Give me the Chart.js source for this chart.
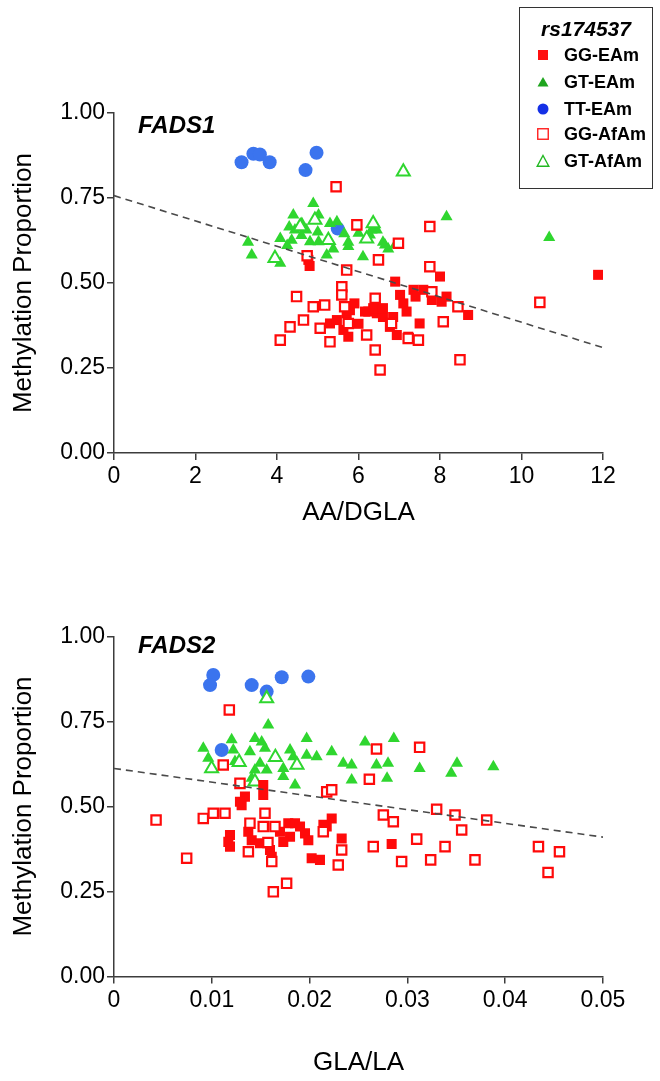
<!DOCTYPE html>
<html><head><meta charset="utf-8">
<script src="https://cdn.jsdelivr.net/npm/chart.js@4.4.1/dist/chart.umd.min.js"></script>
<style>
html,body{margin:0;padding:0;background:#fff}
body{width:660px;height:1081px;position:relative;overflow:hidden;font-family:"Liberation Sans",Arial,sans-serif;color:#000}
canvas{position:absolute;left:0}
#c1{top:0}
#c2{top:540px}
.lbl{position:absolute;font-weight:bold;font-style:italic;font-size:24px;line-height:24px;white-space:nowrap}
#legend{position:absolute;left:519px;top:7px;width:134px;height:182px;border:1.5px solid #333;box-sizing:border-box}
#legend .ttl{position:absolute;left:0;width:100%;top:9px;text-align:center;font-weight:bold;font-style:italic;font-size:21px;line-height:24px}
#legend .row{position:absolute;left:0;width:100%;height:20px}
#legend .row svg{position:absolute;left:16px;top:3px}
#legend .row span{position:absolute;left:44px;top:0;font-weight:bold;font-size:18px;line-height:20px;white-space:nowrap}
</style>
</head><body>
<canvas id="c1" width="660" height="540"></canvas>
<canvas id="c2" width="660" height="541"></canvas>
<div class="lbl" style="left:138px;top:113px">FADS1</div>
<div class="lbl" style="left:138px;top:633px">FADS2</div>
<div id="legend">
  <div class="ttl">rs174537</div>
  <div class="row" style="top:37px"><svg width="14" height="14"><rect x="2" y="2" width="10" height="10" fill="#ff1010"/></svg><span>GG-EAm</span></div>
  <div class="row" style="top:64px"><svg width="14" height="14"><polygon points="7,2 12.5,11.5 1.5,11.5" fill="#1fa51f"/></svg><span>GT-EAm</span></div>
  <div class="row" style="top:91px"><svg width="14" height="14"><circle cx="7" cy="7" r="5.5" fill="#1430e6"/></svg><span>TT-EAm</span></div>
  <div class="row" style="top:116px"><svg width="14" height="14"><rect x="1.75" y="1.75" width="10.5" height="10.5" fill="none" stroke="#ff2020" stroke-width="1.4"/></svg><span>GG-AfAm</span></div>
  <div class="row" style="top:143px"><svg width="14" height="14"><polygon points="7,1.5 12.8,12.2 1.2,12.2" fill="none" stroke="#22b822" stroke-width="1.4"/></svg><span>GT-AfAm</span></div>
</div>
<script>
// ---------- FADS1 (x = AA/DGLA) ----------
const f1_GG_EAm_x = [4.77,4.80,5.30,5.47,5.71,5.79,5.63,5.75,6.24,6.45,6.60,6.90,8.00,7.35,7.59,8.16,8.04,8.69,7.02,7.10,6.36,6.60,7.18,7.50,6.94,7.22,6.77,6.85,6.16,6.00,7.40,7.80,5.90,11.88];
const f1_GG_EAm_y = [0.568,0.55,0.381,0.391,0.411,0.42,0.362,0.342,0.416,0.411,0.40,0.504,0.519,0.48,0.48,0.46,0.445,0.406,0.465,0.44,0.426,0.426,0.416,0.381,0.347,0.342,0.371,0.40,0.416,0.38,0.46,0.45,0.44,0.524];
const f1_GT_EAm_x = [4.89,4.40,4.61,5.02,4.44,4.72,4.08,4.36,4.81,5.02,5.30,5.47,5.75,6.00,6.28,6.60,3.29,3.38,4.08,5.22,5.38,5.75,6.11,6.45,6.73,6.32,6.65,6.90,8.16,10.68,4.30,4.60,5.00,5.65,4.25];
const f1_GT_EAm_y = [0.734,0.70,0.675,0.70,0.656,0.656,0.631,0.626,0.621,0.621,0.675,0.68,0.62,0.646,0.641,0.62,0.62,0.582,0.558,0.582,0.60,0.607,0.577,0.656,0.60,0.656,0.612,0.612,0.695,0.634,0.665,0.64,0.65,0.645,0.61];
const f1_TT_EAm_x = [3.13,3.42,3.58,3.82,4.70,4.97,5.49];
const f1_TT_EAm_y = [0.855,0.88,0.878,0.855,0.832,0.883,0.66];
const f1_GG_AfAm_x = [5.45,5.96,6.49,4.74,5.71,5.59,5.59,4.48,4.89,5.17,4.65,4.32,4.08,5.06,5.30,5.66,5.75,6.41,6.20,6.41,6.53,7.75,6.98,7.75,8.44,8.08,7.47,7.22,8.49,6.81,7.80,10.45];
const f1_GG_AfAm_y = [0.783,0.671,0.568,0.58,0.538,0.489,0.465,0.46,0.43,0.435,0.391,0.371,0.332,0.367,0.327,0.43,0.381,0.455,0.347,0.303,0.244,0.666,0.617,0.548,0.43,0.386,0.332,0.337,0.274,0.381,0.474,0.443];
const f1_GT_AfAm_x = [7.10,3.95,4.93,5.26,6.36,6.20,4.57];
const f1_GT_AfAm_y = [0.827,0.573,0.685,0.626,0.675,0.63,0.666];
const f1_fit_x = [0, 12];
const f1_fit_y = [0.757, 0.31];

// ---------- FADS2 (x = GLA/LA) ----------
const f2_GG_EAm_x = [0.01526,0.01526,0.01339,0.01288,0.01305,0.01186,0.01169,0.01186,0.01373,0.01408,0.01493,0.01595,0.01613,0.01697,0.01782,0.01851,0.01902,0.01953,0.01800,0.01987,0.02021,0.02106,0.02226,0.02175,0.01731,0.02141,0.02328,0.02839];
const f2_GG_EAm_y = [0.563,0.534,0.529,0.514,0.504,0.416,0.396,0.382,0.426,0.401,0.392,0.372,0.352,0.426,0.451,0.451,0.441,0.421,0.411,0.401,0.348,0.343,0.465,0.441,0.396,0.446,0.406,0.39];
const f2_GT_EAm_x = [0.01577,0.00913,0.01203,0.01220,0.01441,0.01510,0.01544,0.01390,0.00964,0.01237,0.01493,0.01731,0.01800,0.01833,0.01970,0.01970,0.02072,0.02226,0.02344,0.01851,0.01731,0.01441,0.01408,0.01561,0.02567,0.02861,0.02430,0.02684,0.02802,0.02430,0.02792,0.03125,0.03507,0.03448,0.03879];
const f2_GT_EAm_y = [0.74,0.671,0.696,0.666,0.70,0.69,0.671,0.661,0.642,0.632,0.627,0.612,0.666,0.646,0.70,0.651,0.646,0.661,0.627,0.563,0.588,0.607,0.583,0.607,0.69,0.70,0.622,0.622,0.627,0.578,0.583,0.612,0.627,0.598,0.617];
const f2_TT_EAm_x = [0.01015,0.00982,0.01408,0.01561,0.01715,0.01987,0.01101];
const f2_TT_EAm_y = [0.887,0.857,0.857,0.838,0.88,0.882,0.666];
const f2_GG_AfAm_x = [0.01179,0.01117,0.01288,0.00913,0.01015,0.01135,0.01544,0.01390,0.01526,0.01646,0.01574,0.01374,0.01613,0.00743,0.01629,0.01765,0.02175,0.02226,0.02293,0.02328,0.02140,0.02684,0.03125,0.02611,0.02754,0.02856,0.03299,0.03487,0.03555,0.03095,0.03385,0.02651,0.02941,0.03238,0.03691,0.03811,0.04340,0.04555,0.04438,0.00430];
const f2_GG_AfAm_y = [0.784,0.622,0.568,0.465,0.48,0.48,0.48,0.451,0.441,0.441,0.394,0.367,0.338,0.348,0.249,0.274,0.543,0.549,0.328,0.372,0.426,0.669,0.674,0.58,0.475,0.455,0.492,0.475,0.431,0.404,0.382,0.382,0.338,0.343,0.343,0.46,0.382,0.367,0.306,0.46];
const f2_GT_AfAm_x = [0.01561,0.00998,0.01441,0.01871,0.01650,0.01280];
const f2_GT_AfAm_y = [0.818,0.612,0.573,0.622,0.645,0.63];
const f2_fit_x = [0, 0.05];
const f2_fit_y = [0.612, 0.41];

// ---------- axis ticks / labels ----------
const yTicks = [0, 0.25, 0.5, 0.75, 1.0];
const f1_xTicks = [0, 2, 4, 6, 8, 10, 12];
const f2_xTicks = [0, 0.01, 0.02, 0.03, 0.04, 0.05];
const yTitle = 'Methylation Proportion';
const f1_xTitle = 'AA/DGLA';
const f2_xTitle = 'GLA/LA';

const RED = '#ff0a0a', GREEN = '#2fd62f', BLUE = '#3b74ee', AXIS = '#3c3c3c';
const FONT = '"Liberation Sans", Arial, sans-serif';

function pts(xs, ys) { return xs.map((x, i) => ({x: x, y: ys[i]})); }

function build(id, s, g) {
  const xt = s.xTicks;
  return new Chart(document.getElementById(id), {
    type: 'scatter',
    data: { datasets: [
      {label: 'fit', data: pts(s.fitX, s.fitY), showLine: true, borderColor: '#4a4a4a', borderWidth: 1.6,
       borderDash: [7, 5], pointRadius: 0, pointHoverRadius: 0, fill: false, order: 0},
      {label: 'GG-AfAm', data: pts(s.ggAfX, s.ggAfY), pointStyle: 'rect', pointRadius: 6.6,
       pointBackgroundColor: '#ffffff', pointBorderColor: RED, pointBorderWidth: 2.2, order: 1},
      {label: 'GG-EAm', data: pts(s.ggEX, s.ggEY), pointStyle: 'rect', pointRadius: 7.1,
       pointBackgroundColor: RED, pointBorderColor: RED, pointBorderWidth: 0, order: 2},
      {label: 'GT-AfAm', data: pts(s.gtAfX, s.gtAfY), pointStyle: 'triangle', pointRadius: 7.5,
       pointBackgroundColor: '#ffffff', pointBorderColor: GREEN, pointBorderWidth: 2, order: 3},
      {label: 'GT-EAm', data: pts(s.gtEX, s.gtEY), pointStyle: 'triangle', pointRadius: 7,
       pointBackgroundColor: GREEN, pointBorderColor: GREEN, pointBorderWidth: 0, order: 4},
      {label: 'TT-EAm', data: pts(s.ttX, s.ttY), pointStyle: 'circle', pointRadius: 7,
       pointBackgroundColor: BLUE, pointBorderColor: BLUE, pointBorderWidth: 0, order: 5}
    ]},
    options: {
      responsive: false, animation: false, devicePixelRatio: 1, events: [],
      layout: {padding: {left: 8, right: 57, top: g.top, bottom: g.padB}},
      plugins: {legend: {display: false}, tooltip: {enabled: false}},
      scales: {
        x: {
          type: 'linear', min: xt[0], max: xt[xt.length - 1],
          afterBuildTicks: (sc) => { sc.ticks = xt.map(v => ({value: v})); },
          ticks: {color: '#000', font: {size: 23, family: FONT}, padding: 3, maxRotation: 0, autoSkip: false,
                  callback: s.xFmt},
          grid: {drawOnChartArea: false, drawTicks: true, tickLength: 7, color: AXIS, lineWidth: 1.5},
          border: {display: true, color: AXIS, width: 1.5},
          title: {display: true, text: s.xTitle, color: '#000', font: {size: 26, family: FONT}, padding: 0},
          afterFit: (sc) => { sc.height = g.xH; }
        },
        y: {
          type: 'linear', min: 0, max: 1,
          afterBuildTicks: (sc) => { sc.ticks = yTicks.map(v => ({value: v})); },
          ticks: {color: '#000', font: {size: 23, family: FONT}, padding: 2, autoSkip: false,
                  callback: (v) => Number(v).toFixed(2)},
          grid: {drawOnChartArea: false, drawTicks: true, tickLength: 7, color: AXIS, lineWidth: 1.5},
          border: {display: true, color: AXIS, width: 1.5},
          title: {display: true, text: yTitle, color: '#000', font: {size: 26, family: FONT}, padding: 0},
          afterFit: (sc) => { sc.width = 106; }
        }
      }
    }
  });
}

build('c1', {
  ggEX: f1_GG_EAm_x, ggEY: f1_GG_EAm_y, gtEX: f1_GT_EAm_x, gtEY: f1_GT_EAm_y,
  ttX: f1_TT_EAm_x, ttY: f1_TT_EAm_y, ggAfX: f1_GG_AfAm_x, ggAfY: f1_GG_AfAm_y,
  gtAfX: f1_GT_AfAm_x, gtAfY: f1_GT_AfAm_y, fitX: f1_fit_x, fitY: f1_fit_y,
  xTicks: f1_xTicks, xTitle: f1_xTitle, xFmt: (v) => String(Math.round(v))
}, {top: 113, padB: 12, xH: 75});

build('c2', {
  ggEX: f2_GG_EAm_x, ggEY: f2_GG_EAm_y, gtEX: f2_GT_EAm_x, gtEY: f2_GT_EAm_y,
  ttX: f2_TT_EAm_x, ttY: f2_TT_EAm_y, ggAfX: f2_GG_AfAm_x, ggAfY: f2_GG_AfAm_y,
  gtAfX: f2_GT_AfAm_x, gtAfY: f2_GT_AfAm_y, fitX: f2_fit_x, fitY: f2_fit_y,
  xTicks: f2_xTicks, xTitle: f2_xTitle, xFmt: (v) => (Math.abs(v) < 1e-9 ? '0' : Number(v).toFixed(2))
}, {top: 96.5, padB: 2.5, xH: 102});
</script>
</body></html>
